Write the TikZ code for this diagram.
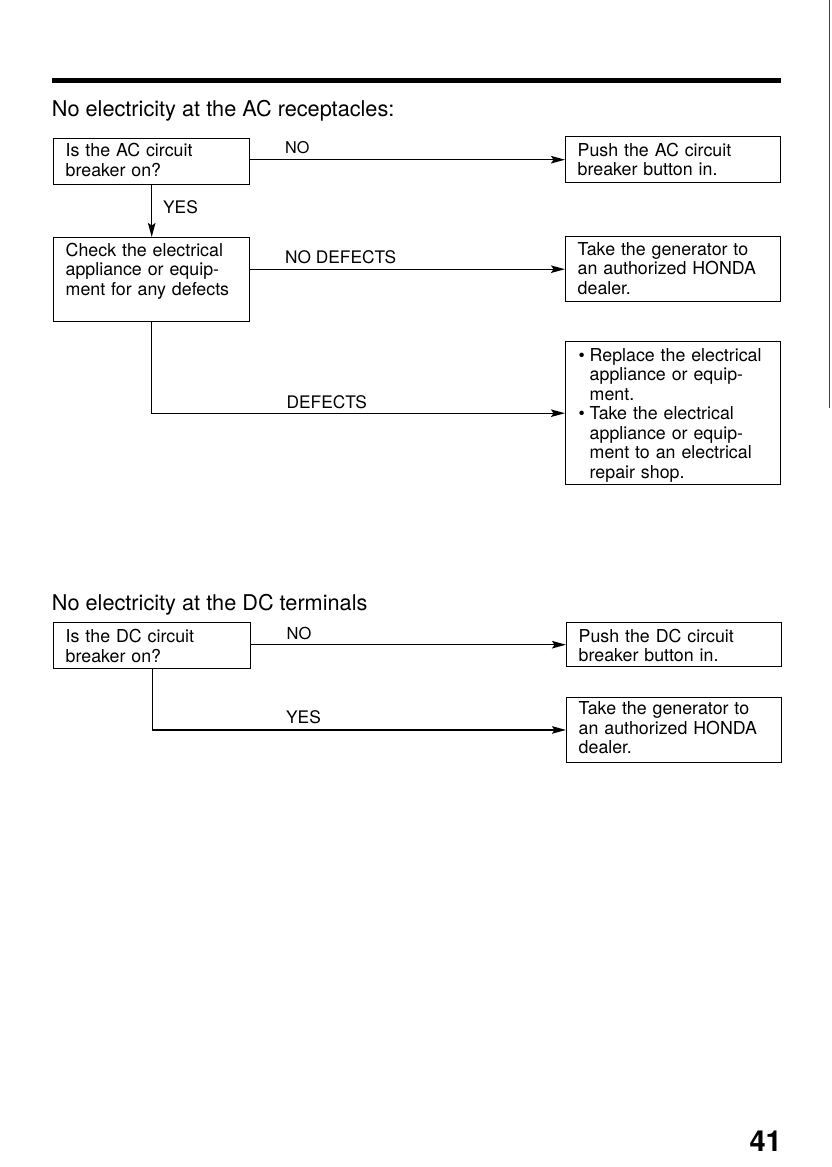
\documentclass[tikz,border=0pt]{standalone}
\usepackage{fontspec}
\setmainfont{TeX Gyre Heros}
\usetikzlibrary{arrows.meta,calc}
\begin{document}
\begin{tikzpicture}[x=1pt,y=-1pt,
  box/.style={draw,line width=1.4pt,anchor=north west,inner xsep=12pt,inner ysep=0pt,
    align=left,font=\fontsize{17.8}{19.5}\selectfont},
  lbl/.style={anchor=base west,inner sep=0pt,font=\fontsize{17.3}{20}\selectfont},
  title/.style={anchor=base west,inner sep=0pt,font=\fontsize{21.7}{24}\selectfont},
  conn/.style={line width=1.4pt},
  arr/.style={conn,-{Stealth[length=14pt,width=7.5pt,inset=2.5pt]}},
]
\useasboundingbox (0,0) rectangle (831,1167);

% top rule and page edge
\draw[line width=5pt] (52,80.5) -- (781,80.5);
\draw[line width=1.3pt,black!75] (829.5,0) -- (829.5,408);

% ---------- AC section ----------
\node[title] (tac) at (51.7,116.7) {No electricity at the AC receptacles:};

\node[box,text width=172pt,text height=18pt,text depth=27.5pt] (b1) at (53,138)
  {Is the AC circuit\\breaker on?};
\node[box,text width=172pt,text height=18.5pt,text depth=65.5pt] (b2) at (53,237)
  {Check the electrical\\appliance or equip-\\ment for any defects};

\node[box,text width=191pt,text height=19.5pt,text depth=26.5pt] (bA) at (565,136)
  {Push the AC circuit\\breaker button in.};
\node[box,text width=191pt,text height=18.5pt,text depth=46.5pt] (bB) at (565,236)
  {Take the generator to\\an authorized HONDA\\dealer.};
\node[box,inner xsep=13pt,text width=189pt,text height=19.5pt,text depth=123.5pt] (bC) at (565,341)
  {\makebox[11pt][l]{\textbullet}Replace the electrical\\
   \hspace*{11pt}appliance or equip-\\
   \hspace*{11pt}ment.\\
   \makebox[11pt][l]{\textbullet}Take the electrical\\
   \hspace*{11pt}appliance or equip-\\
   \hspace*{11pt}ment to an electrical\\
   \hspace*{11pt}repair shop.};

\node[lbl,font=\fontsize{16.2}{18}\selectfont] (noac) at (285,153.3) {NO};
\node[lbl] (yesac) at (163,213.5) {YES};
\node[lbl] (nodef) at (285,263.3) {NO DEFECTS};
\node[lbl] (def) at (286.5,408.3) {DEFECTS};

\draw[arr] (bA.west -| b1.east) -- (bA.west);
\draw[arr] (b1.south) -- (b2.north);
\draw[arr] (bB.west -| b2.east) -- (bB.west);
\draw[arr] (b2.south) |- (bC.west);

% ---------- DC section ----------
\node[title] (tdc) at (51.7,610.7) {No electricity at the DC terminals};

\node[box,text width=173pt,text height=20pt,text depth=26pt] (bDC) at (53,622)
  {Is the DC circuit\\breaker on?};
\node[box,text width=191pt,text height=19.5pt,text depth=24.5pt] (bD) at (566,622)
  {Push the DC circuit\\breaker button in.};
\node[box,text width=191pt,text height=17pt,text depth=47.5pt] (bE) at (566,697)
  {Take the generator to\\an authorized HONDA\\dealer.};

\node[lbl,font=\fontsize{16.5}{18}\selectfont] (nodc) at (286.5,639.3) {NO};
\node[lbl] (yesdc) at (286,723.3) {YES};

\draw[arr] (bD.west -| bDC.east) -- (bD.west);
\draw[arr] (bDC.south) |- (bE.west);

% page number
\node[anchor=base east,inner sep=0pt,font=\fontsize{29}{30}\selectfont\bfseries] (pg) at (782,1151) {41};
\end{tikzpicture}
\end{document}
